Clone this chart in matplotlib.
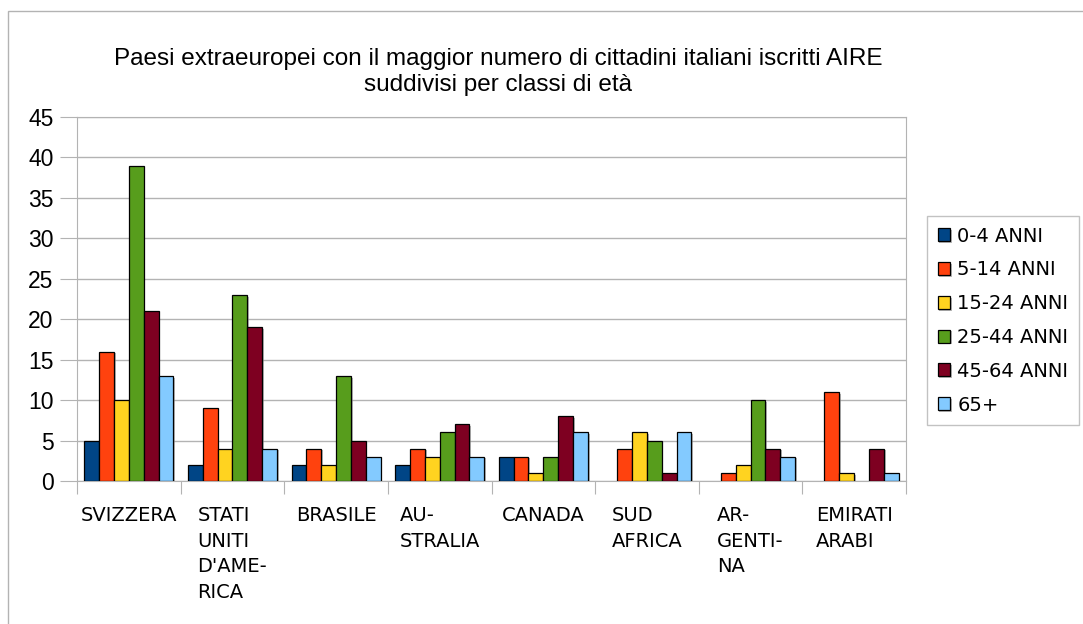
import numpy as np
import matplotlib
matplotlib.use("Agg")
import matplotlib.pyplot as plt
import matplotlib.patheffects as pe
from matplotlib.patches import Rectangle

countries = ["SVIZZERA", "STATI\nUNITI\nD'AME-\nRICA", "BRASILE", "AU-\nSTRALIA",
             "CANADA", "SUD\nAFRICA", "AR-\nGENTI-\nNA", "EMIRATI\nARABI"]
age_groups = ["0-4 ANNI", "5-14 ANNI", "15-24 ANNI", "25-44 ANNI", "45-64 ANNI", "65+"]
age_0_4 = [5, 2, 2, 2, 3, 0, 0, 0]
age_5_14 = [16, 9, 4, 4, 3, 4, 1, 11]
age_15_24 = [10, 4, 2, 3, 1, 6, 2, 1]
age_25_44 = [39, 23, 13, 6, 3, 5, 10, 0]
age_45_64 = [21, 19, 5, 7, 8, 1, 4, 4]
age_65 = [13, 4, 3, 3, 6, 6, 3, 1]
series = [age_0_4, age_5_14, age_15_24, age_25_44, age_45_64, age_65]
colors = ["#004586", "#ff420e", "#ffd320", "#579d1c", "#7e0021", "#83caff"]

W, H = 1083, 624
fig = plt.figure(figsize=(W / 100, H / 100), dpi=100)
ax = fig.add_axes([77 / W, 1 - 481 / H, (906 - 77) / W, (481 - 117) / H])

# outer chart border
fig.patches.append(Rectangle((8 / W, -0.05), 1.1, 1 - 11 / H + 0.05, transform=fig.transFigure,
                             fill=False, edgecolor="#b3b3b3", lw=1))

n = len(countries)
bw = 0.86 / len(series)
x = np.arange(n) + 0.5
shadow = [pe.SimplePatchShadow(offset=(1.2, -1.2), shadow_rgbFace="#888888", alpha=0.6), pe.Normal()]
for i, (vals, lab, c) in enumerate(zip(series, age_groups, colors)):
    off = (i - (len(series) - 1) / 2) * bw
    bars = ax.bar(x + off, vals, bw, color=c, edgecolor="black", lw=0.9, label=lab, zorder=3)
    for b in bars:
        if b.get_height() > 0:
            b.set_path_effects(shadow)
        else:
            b.set_visible(False)

ax.set_xlim(0, n)
ax.set_ylim(0, 45)
ax.set_yticks(np.arange(0, 46, 5))
ax.yaxis.grid(True, color="#b3b3b3", lw=1, zorder=0)
for s in ax.spines.values():
    s.set_color("#b3b3b3")
ax.tick_params(axis="y", length=12, color="#b3b3b3", labelsize=16.5, pad=5)
for t in ax.get_yticklabels():
    t.set_family("Liberation Sans")

# group separators as major ticks, country names on minor ticks
ax.set_xticks(np.arange(n + 1))
ax.set_xticklabels([])
ax.tick_params(axis="x", which="major", length=9, color="#b3b3b3")
ax.set_xticks(x, minor=True)
ax.set_xticklabels(countries, minor=True, fontsize=14, family="DejaVu Sans",
                   va="top", ha="center", multialignment="left", linespacing=1.45)
ax.tick_params(axis="x", which="minor", length=0, pad=18)

fig.text(0.46, 1 - 72 / H,
         "Paesi extraeuropei con il maggior numero di cittadini italiani iscritti AIRE\nsuddivisi per classi di età",
         ha="center", va="center", fontsize=17.5, family="Liberation Sans", linespacing=1.25)

leg = fig.legend(loc="upper left", bbox_to_anchor=(927 / W, 1 - 216 / H), bbox_transform=fig.transFigure,
                 frameon=True, fancybox=False, edgecolor="#b3b3b3", prop={"family": "DejaVu Sans", "size": 14},
                 handlelength=0.65, handleheight=0.65, handletextpad=0.35, labelspacing=0.76,
                 borderpad=0.55, borderaxespad=0)
leg.get_frame().set_linewidth(1)

fig.savefig("out.png", dpi=100)
